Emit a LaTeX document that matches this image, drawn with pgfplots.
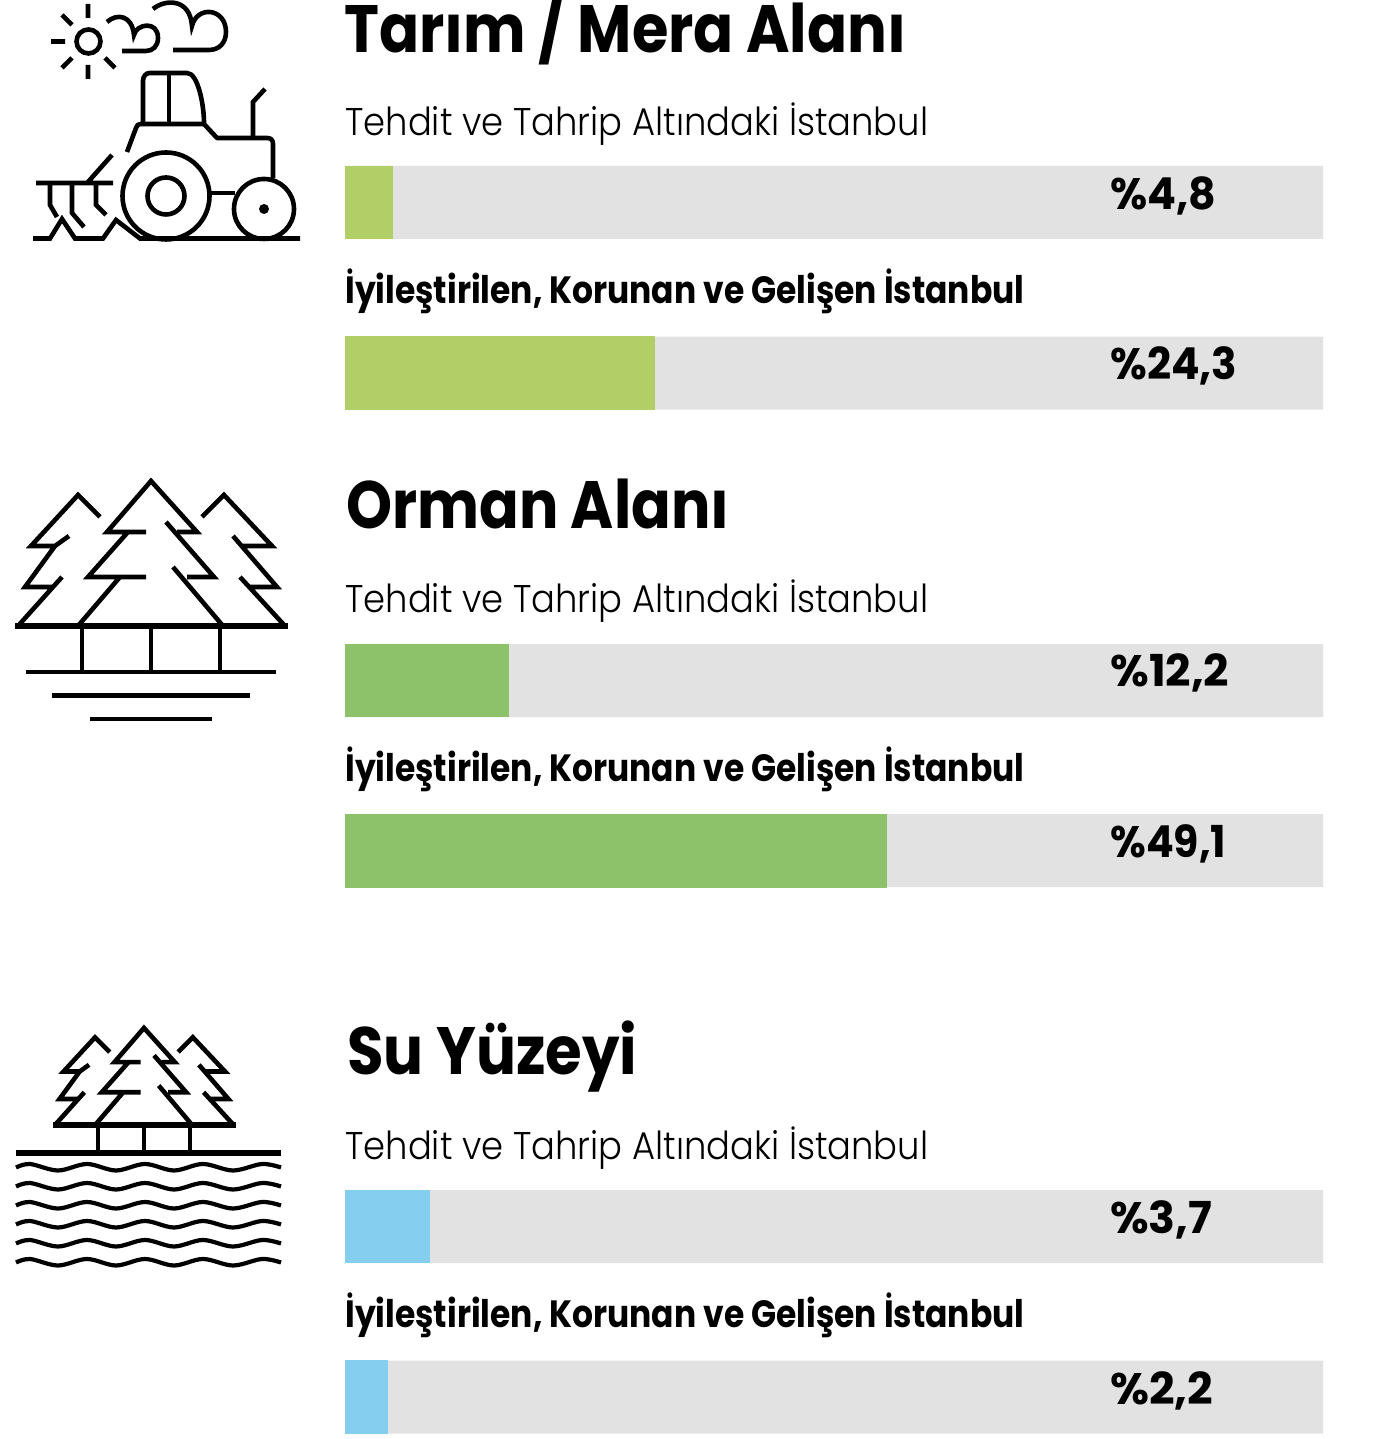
\documentclass[border=0pt]{standalone}
\usepackage{fontspec}
\usepackage{graphicx}
\usepackage{pgfplots}
\pgfplotsset{compat=1.18}
\setmainfont{Poppins}
\newfontfamily\lightf{Poppins Light}
\newfontfamily\semif{Poppins SemiBold}
\newfontfamily\boldf{Poppins Bold}
\definecolor{gr}{HTML}{E2E2E2}
\definecolor{lime}{HTML}{B1CE67}
\definecolor{leaf}{HTML}{8DC26A}
\definecolor{sky}{HTML}{85CEEF}
% width in px (0.5pt each), keeps the natural height
\newcommand\fitw[2]{\resizebox{#1pt}{\height}{#2}}
\newcommand\lab[4]{\node[anchor=base west,inner sep=0pt] at (#1,#2) {\fitw{#3}{#4}};}
\newcommand\titlelab[4]{\lab{#1}{#2}{#3}{\fontsize{33.5}{36}\boldf #4}}
\newcommand\sublabs[2]{%
 \lab{343}{#1}{291.5}{\fontsize{19.3}{22}\lightf Tehdit ve Tahrip Altındaki İstanbul}
 \lab{343}{#2}{339.5}{\fontsize{19}{22}\boldf İyileştirilen, Korunan ve Gelişen İstanbul}}
\newcommand\vallab[3]{\lab{1108}{#1}{#2}{\fontsize{22}{24}\boldf #3}}
\newcommand\trees{%
 \draw (100,517)--(78,495)--(31,546)--(55,546) (69,536)--(55,546)--(25,587)--(53,587) (62,577)--(53,587)--(18,626);
 \draw (202,517)--(224,495)--(272,546)--(243,546) (233,536)--(277,587)--(248,587) (240,577)--(285,626);
 \draw (146,532)--(107,532)--(151,481)--(197,532)--(177,532) (128,532)--(88,577)--(146,577) (120,577)--(78,626);
 \draw (166,522)--(214,577)--(187,577) (173,567)--(223,626);
 \draw[line width=2.9pt] (15,626)--(288,626);
}
\begin{document}
\begin{tikzpicture}
\useasboundingbox (0,0) rectangle (692.5pt,719.5pt);
\begin{axis}[at={(0,0)},anchor=south west,scale only axis,width=692.5pt,height=719.5pt,
  xmin=-35.276,xmax=106.339,ymin=0,ymax=1439,y dir=reverse,axis lines=none,ticks=none,
  xbar,bar shift=0pt,bar width=73]
\addplot[fill=gr,draw=none] coordinates {(100,202.5) (100,373) (100,680.5) (100,850.5) (100,1226.5) (100,1397)};
\addplot[fill=lime,draw=none,bar width=73] coordinates {(4.9,202.5)};
\addplot[fill=lime,draw=none,bar width=74] coordinates {(31.7,373)};
\addplot[fill=leaf,draw=none,bar width=73] coordinates {(16.8,680.5)};
\addplot[fill=leaf,draw=none,bar width=74] coordinates {(55.4,851)};
\addplot[fill=sky,draw=none,bar width=73] coordinates {(8.7,1226.5)};
\addplot[fill=sky,draw=none,bar width=74] coordinates {(4.4,1397)};
\end{axis}
\begin{scope}[shift={(0,719.5pt)},x=0.5pt,y=-0.5pt,line width=2.3pt,line join=miter,black]
% texts
\titlelab{342}{53}{281}{Tarım / Mera Alanı}
\titlelab{344}{529}{191.5}{Orman Alanı}
\titlelab{345}{1075}{145}{Su Yüzeyi}
\sublabs{136}{304}
\sublabs{613}{782}
\sublabs{1160}{1328}
\vallab{210}{53}{\%4,8}
\vallab{380}{63.5}{\%24,3}
\vallab{687}{59.5}{\%12,2}
\vallab{858}{58}{\%49,1}
\vallab{1234}{51}{\%3,7}
\vallab{1404}{51.5}{\%2,2}
% tractor icon
\draw (88.5,41.5) circle (12);
\draw (88,4)--(88,18) (88,65)--(88,79) (51,41.5)--(65,41.5) (62,15)--(72,25) (62,68)--(72,58) (105,58)--(115,68);
\draw (107,22) .. controls (117,13) and (132,15) .. (134,35) .. controls (136,24) and (158,20) .. (158,38) .. controls (158,46) and (153,51) .. (146,51) -- (122,51);
\draw (153,9) .. controls (165,-1) and (190,-2) .. (192,26) .. controls (197,5) and (226,8) .. (226,32) .. controls (226,43) and (219,50) .. (209,50) -- (173,50);
\draw[line join=round] (143,123)--(143,81) .. controls (143,76) and (146,73) .. (150,73)--(187,73) .. controls (198,73) and (204,105) .. (204,123);
\draw (169,73)--(169,123);
\draw[line join=round] (127,152)--(136,128) .. controls (137,125) and (138,124) .. (141,124)--(204,124)--(217,138)--(267,138) .. controls (271,138) and (273,140) .. (273,144)--(273,178);
\draw (253,137)--(253,102)--(265,89);
\draw (166,196) circle (43.5);
\draw (166,196) circle (18.5);
\draw (264,209) circle (30);
\fill (264,209) circle (5);
\draw (211,193)--(235,193);
\draw (33,238.5)--(50,238.5)--(62,219)--(75,238.5)--(103,238.5)--(116,220)--(140,238.5)--(300,238.5);
\draw (36,183)--(113,183) (88,182)--(112,155);
\draw (50,183)--(50,205)--(57,217) (72,183)--(72,213)--(84,227) (96,183)--(96,205)--(106,215);
% forest icon
\trees
\draw (82,626)--(82,672) (151,626)--(151,672) (220,626)--(220,672);
\draw (26,672)--(276,672) (52,695.5)--(250,695.5) (90,719)--(212,719);
% water icon
\begin{scope}[shift={(42.8,705.7)},scale=0.67]
\trees
\end{scope}
\draw (98,1124)--(98,1153) (144,1124)--(144,1153) (190,1124)--(190,1153);
\draw[line width=2.7pt] (16,1153)--(281,1153);
\foreach \y in {1167,1186,1205,1224,1243,1262}{
 \draw[line width=2.1pt] plot[smooth,tension=0.55] coordinates {(16,\y+0.5) (30,\y-3) (58,\y+3.5) (87,\y-3) (116,\y+3.5) (145,\y-3) (174,\y+3.5) (203,\y-3) (233,\y+3.5) (262,\y-3) (281,\y+0.5)};
}
\end{scope}
\end{tikzpicture}
\end{document}
